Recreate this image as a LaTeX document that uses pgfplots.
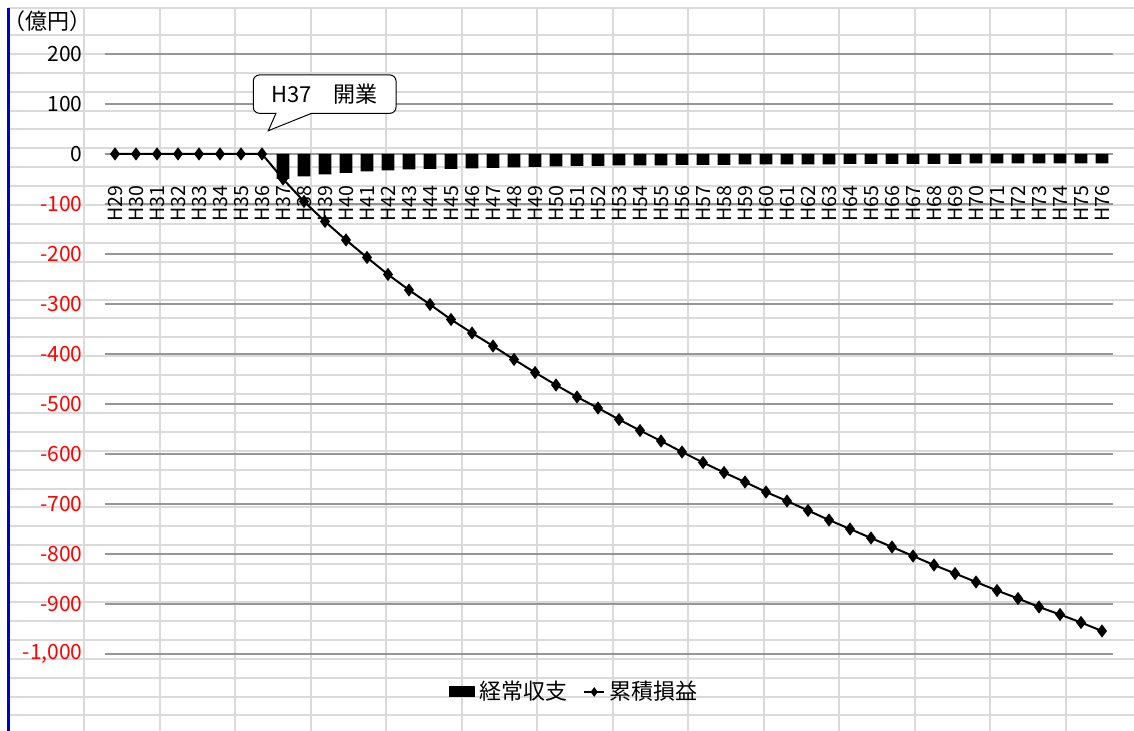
\documentclass[border=0pt]{standalone}
\usepackage{pgfplots}
\pgfplotsset{compat=1.18}
\usepackage{pgfplotstable}
\usepackage{fontspec}
\setmainfont{Noto Sans CJK JP}
\definecolor{cellgrid}{RGB}{218,218,218}
\definecolor{majgrid}{RGB}{150,150,150}
\definecolor{xlblue}{RGB}{0,0,200}

\pgfplotstableread{
x bal cum
0 0 0
1 0 0
2 0 0
3 0 0
4 0 0
5 0 0
6 0 0
7 0 0
8 -50 -50
9 -45 -95
10 -41 -135
11 -38 -172
12 -35 -207
13 -33 -241
14 -31 -272
15 -30 -301
16 -30 -331
17 -29 -358
18 -28 -384
19 -27 -411
20 -26 -437
21 -25 -462
22 -24 -486
23 -24 -508
24 -23 -531
25 -23 -553
26 -23 -574
27 -22 -596
28 -22 -617
29 -22 -637
30 -21 -656
31 -21 -676
32 -21 -694
33 -21 -713
34 -21 -732
35 -20 -750
36 -20 -768
37 -20 -786
38 -20 -804
39 -20 -822
40 -20 -839
41 -19 -856
42 -19 -873
43 -19 -889
44 -19 -906
45 -19 -921
46 -19 -937
47 -19 -954
}\datatable

\begin{document}
\begin{tikzpicture}
\begin{scope}[x=0.5pt,y=-0.5pt]
\fill[white] (0,0) rectangle (1134,731);
\draw[cellgrid, line width=1pt] (8.3,8.3) -- (1134,8.3);
\foreach \k in {0,...,36} { \draw[cellgrid, line width=1pt] (8.3,35+18.9*\k) -- (1134,35+18.9*\k); }
\foreach \k in {0,...,14} { \draw[cellgrid, line width=1pt] (84+75.54*\k,8.3) -- (84+75.54*\k,731); }
\draw[xlblue, line width=1.2pt] (8.3,8.3) -- (8.3,731);
\coordinate (axpos) at (104.5,654);
\end{scope}

\begin{axis}[
  at={(axpos)}, anchor=south west,
  scale only axis, width=504pt, height=300pt,
  xmin=-0.5, xmax=47.5, ymin=-1000, ymax=200,
  clip=false,
  axis line style={draw=none},
  major tick length=0pt,
  ymajorgrids,
  grid style={majgrid, line width=0.7pt},
  ytick={-1000,-900,...,200},
  scaled y ticks=false,
  /pgf/number format/assume math mode=true,
  /pgf/number format/1000 sep={,},
  yticklabel={\pgfmathparse{\tick<0}\ifnum\pgfmathresult=1 \color{red}\fi\pgfmathprintnumber{\tick}},
  yticklabel style={anchor=east, inner sep=0pt, xshift=-10.75pt, font=\fontsize{10.5}{12}\selectfont},
  xtick={0,...,47},
  xticklabels={H29,H30,H31,H32,H33,H34,H35,H36,H37,H38,H39,H40,H41,H42,H43,H44,H45,H46,H47,H48,H49,H50,H51,H52,H53,H54,H55,H56,H57,H58,H59,H60,H61,H62,H63,H64,H65,H66,H67,H68,H69,H70,H71,H72,H73,H74,H75,H76},
  xticklabel style={yshift=234.5pt, rotate=90, anchor=east, inner sep=0pt, font=\fontsize{9.8}{10}\selectfont},
  legend columns=-1,
  legend style={at={(0.4670,-0.0633)}, anchor=center, draw=none, fill=none,
    font=\fontsize{11}{12}\selectfont,
    /tikz/every even column/.append style={column sep=6pt}},
]
\addplot[ybar, bar width=6.3pt, fill=black, draw=none,
  legend image code/.code={\fill[black] (0pt,-2.75pt) rectangle (13pt,2.75pt);}]
  table[x=x, y=bal] {\datatable};
\addlegendentry{経常収支}
\addplot[black, line width=1pt, mark=diamond*, mark size=2.5pt, mark options={fill=black},
  legend image code/.code={\draw[black, line width=0.8pt] (0pt,0pt) -- (10pt,0pt); \fill[black] (5pt,1.6pt) -- (6.2pt,0pt) -- (5pt,-1.6pt) -- (3.8pt,0pt) -- cycle;}]
  table[x=x, y=cum] {\datatable};
\addlegendentry{累積損益}
\end{axis}

\begin{scope}[x=0.5pt,y=-0.5pt]
\draw[black, line width=0.5pt, fill=white] (276,113.3) -- (268.3,130.7) -- (311.7,113.3) [rounded corners=3pt] -- (396,113.3) -- (396,75) -- (253.3,75) -- (253.3,113.3) [sharp corners] -- cycle;
\node[font=\fontsize{11}{12}\selectfont] at (324.6,94.5) {H37　開業};
\node[font=\fontsize{11}{12}\selectfont] at (47.5,21.5) {（億円）};
\end{scope}
\pgfresetboundingbox
\begin{scope}[x=0.5pt,y=-0.5pt]
\useasboundingbox (0,0) rectangle (1134,731);
\end{scope}
\end{tikzpicture}
\end{document}
